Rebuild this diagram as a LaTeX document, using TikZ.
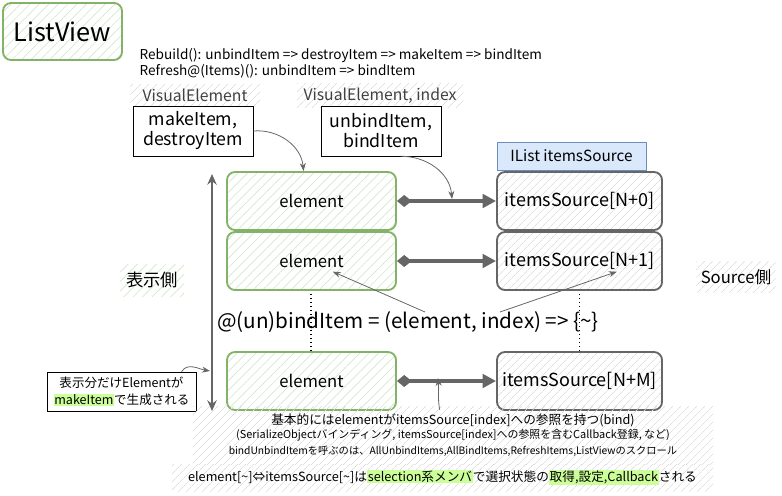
\documentclass[tikz,border=0pt]{standalone}
\usepackage{fontspec}
\setmainfont{Noto Sans CJK JP}
\usetikzlibrary{arrows.meta,patterns.meta,positioning}
\definecolor{lvgreen}{HTML}{82B366}
\definecolor{lvhatchg}{HTML}{D3E8CC}
\definecolor{lvgray}{HTML}{666666}
\definecolor{lvhatch}{HTML}{DEDEDE}
\definecolor{lvblue}{HTML}{DAE8FC}
\definecolor{lvblueline}{HTML}{6C8EBF}
\definecolor{lvmark}{HTML}{CCFF99}
\newcommand{\fs}[2]{\fontsize{#1}{#2}\selectfont}
\newcommand{\hilite}[1]{{\setlength{\fboxsep}{0.6pt}\colorbox{lvmark}{#1}}}
\tikzset{
  hatchg/.style={pattern={Lines[angle=45,distance=5pt,line width=0.5pt]},pattern color=lvhatchg},
  hatch/.style={pattern={Lines[angle=45,distance=4pt,line width=0.5pt]},pattern color=lvhatch},
  elembox/.style={draw=lvgreen,line width=1.4pt,rounded corners=6pt,hatchg,
    minimum width=126.75pt,minimum height=43.5pt,font=\fs{12.5}{14}},
  srcbox/.style={draw=lvgray,line width=1.4pt,rounded corners=6pt,hatch,
    minimum width=123.75pt,minimum height=43.5pt,font=\fs{13.5}{15}},
  funcbox/.style={draw,thin,fill=white,minimum width=90pt,minimum height=37.5pt,
    align=center,font=\fs{13.3}{15},inner sep=1pt},
  typelabel/.style={hatch,minimum height=15.75pt,text=black!75,font=\fs{11.8}{13}},
  bindarrow/.style={lvgray,line width=2.6pt,
    {Diamond[length=11pt,width=9pt]}-{Triangle[length=10pt,width=10pt]}},
  pointer/.style={lvgray,line width=0.6pt,-{Stealth[length=6pt,width=4.5pt]}},
}
\begin{document}
\begin{tikzpicture}[x=0.75pt,y=-0.75pt]
  \useasboundingbox (0,0) rectangle (782,496);

  % title and call order
  \node[draw=lvgreen,line width=1.4pt,rounded corners=6pt,hatchg,minimum width=89.25pt,
    minimum height=42.75pt,font=\fs{19}{22}] (listview) at (62.5,31.5) {ListView};
  \node[anchor=west,align=left,font=\fs{10.2}{12}] (order) at (135,63)
    {Rebuild(): unbindItem => destroyItem => makeItem => bindItem\\
     Refresh@(Items)(): unbindItem => bindItem};

  % callbacks
  \node[typelabel,minimum width=97.5pt] (vetype) at (195,95.5) {VisualElement};
  \node[typelabel,minimum width=124.5pt] (veitype) at (380,95.5) {VisualElement, index};
  \node[funcbox] (make) at (193,131) {makeItem,\\destroyItem};
  \node[funcbox] (bind) at (381,131) {unbindItem,\\bindItem};

  % list source
  \node[draw=lvblueline,fill=lvblue,minimum width=111.75pt,minimum height=21pt,
    font=\fs{11.5}{13}] (ilist) at (571.5,156) {IList itemsSource};

  % dotted continuation
  \draw[dotted,line width=1pt] (311,290) -- (311,352);
  \draw[dotted,line width=1pt] (579.5,290) -- (579.5,352);

  \node[elembox] (elem0) at (311.5,201) {element};
  \node[elembox] (elem1) at (311.5,261) {element};
  \node[elembox] (elemM) at (311.5,381) {element};
  \node[srcbox] (src0) at (579.5,201) {itemsSource[N+0]};
  \node[srcbox] (src1) at (579.5,261) {itemsSource[N+1]};
  \node[srcbox] (srcM) at (579.5,381) {itemsSource[N+M]};

  \draw[bindarrow] (elem0) -- (src0);
  \draw[bindarrow] (elem1) -- (src1);
  \draw[bindarrow] (elemM) -- (srcM);

  % sides
  \coordinate (top) at (212,174);
  \coordinate (bottom) at (212,411);
  \draw[lvgray,line width=1.3pt,{Stealth[length=8pt,width=7pt]}-{Stealth[length=8pt,width=7pt]}]
    (bottom) -- (top);
  \node[hatchg,minimum width=48pt,minimum height=24pt,font=\fs{13}{15}] (viewside) at (152,280) {表示側};
  \node[hatch,minimum width=58pt,minimum height=23pt,font=\fs{12.5}{14}] (srcside) at (736,277) {Source側};

  % bind expression
  \node[font=\fs{15.5}{18}] (expr) at (408,322) {@(un)bindItem = (element, index) => \{\textasciitilde\}};
  \coordinate (exprA) at (425,312);
  \coordinate (exprB) at (500,312);
  \draw[pointer] (exprA) -- ([xshift=16pt,yshift=-8pt]elem1.center);
  \draw[pointer] (exprB) -- ([xshift=28pt,yshift=-8pt]src1.center);

  \draw[pointer] (make.east) to[out=5,in=95] ([xshift=-6pt]elem0.north);
  \coordinate (bindmid) at (452,199);
  \draw[pointer] ([xshift=15pt]bind.south) to[out=0,in=95] (bindmid);

  % left note
  \node[draw,thin,fill=white,minimum width=111.75pt,minimum height=29.25pt,align=center,
    font=\fs{9.4}{12.5},inner sep=1pt] (made) at (121.5,391.5) {表示分だけElementが\\\hilite{makeItem}で生成される};
  \coordinate (madept) at (210,371);
  \draw[pointer] ([xshift=-11pt]made.north east) to[out=60,in=170] (madept);

  % notes at the bottom
  \node[hatch,minimum width=390pt,minimum height=43.5pt,align=center,inner sep=1pt] (bindnote) at (453,435)
    {{\fs{9.5}{12}基本的にはelementがitemsSource[index]への参照を持つ(bind)}\\[-1pt]
     {\fs{8.2}{10.5}(SerializeObjectバインディング, itemsSource[index]への参照を含むCallback登録, など)}\\
     {\fs{7.7}{10.5}bindUnbindItemを呼ぶのは、AllUnbindItems,AllBindItems,RefreshItems,ListViewのスクロール}};
  \node[hatch,minimum width=405.75pt,minimum height=20.25pt,font=\fs{9.5}{11}] (selnote) at (442.5,477.5)
    {element[\textasciitilde]⇔itemsSource[\textasciitilde]は\hilite{selection系メンバ}で選択状態の\hilite{取得,設定,Callback}される};
  \coordinate (bindmidM) at (438,378);
  \draw[pointer] ([xshift=-10pt,yshift=-3pt]bindnote.north) to[out=100,in=-85] (bindmidM);
\end{tikzpicture}
\end{document}
